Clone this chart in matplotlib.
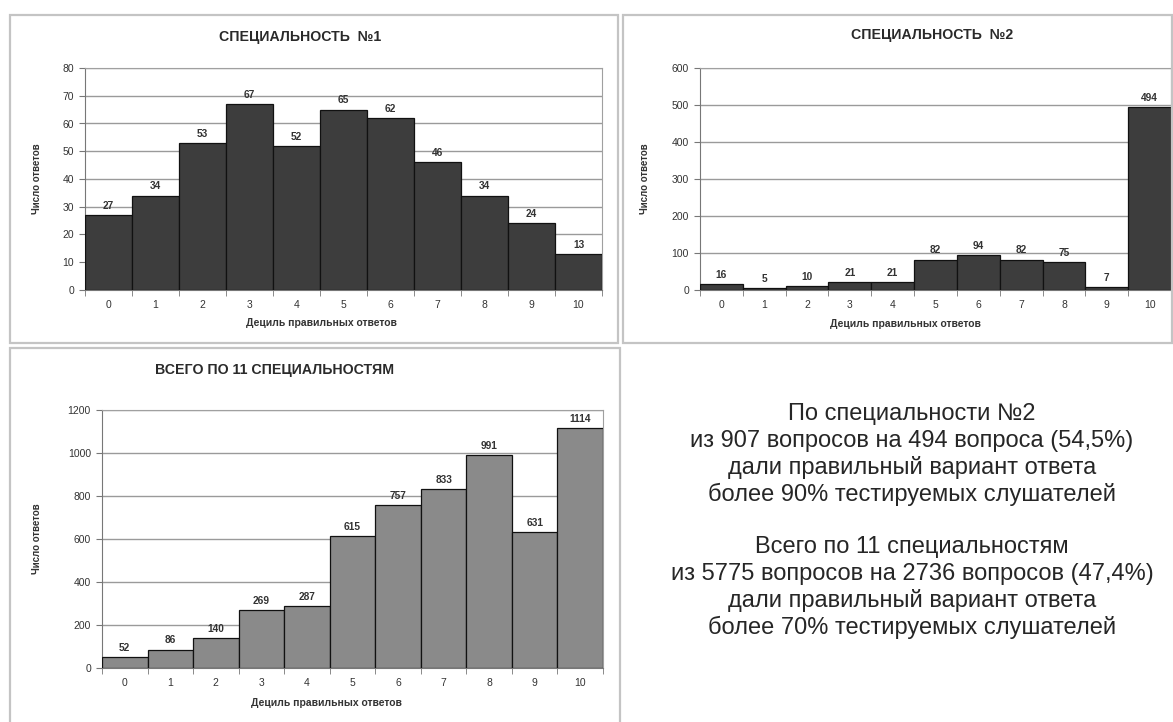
import matplotlib
matplotlib.use("Agg")
import matplotlib.pyplot as plt
from matplotlib.patches import Rectangle
import numpy as np

# deciles of correct answers and counts per decile
DECILES = list(range(11))
SPEC1 = [27, 34, 53, 67, 52, 65, 62, 46, 34, 24, 13]
SPEC2 = [16, 5, 10, 21, 21, 82, 94, 82, 75, 7, 494]
TOTAL = [52, 86, 140, 269, 287, 615, 757, 833, 991, 631, 1114]

TITLES = ["СПЕЦИАЛЬНОСТЬ  №1", "СПЕЦИАЛЬНОСТЬ  №2", "ВСЕГО ПО 11 СПЕЦИАЛЬНОСТЯМ"]
YLABEL = "Число ответов"
XLABEL = "Дециль правильных ответов"
NOTE = ["По специальности №2",
        "из 907 вопросов на 494 вопроса (54,5%)",
        "дали правильный вариант ответа",
        "более 90% тестируемых слушателей",
        "",
        "Всего по 11 специальностям",
        "из 5775 вопросов на 2736 вопросов (47,4%)",
        "дали правильный вариант ответа",
        "более 70% тестируемых слушателей"]

plt.rcParams["font.family"] = ["Liberation Sans", "DejaVu Sans"]

W, H = 1173, 722
fig = plt.figure(figsize=(W / 100, H / 100), dpi=100)
fig.patch.set_facecolor("white")


def fx(px):
    return px / W


def fy(py):
    return 1 - py / H


def frame(x0, y0, x1, y1):
    fig.patches.append(Rectangle((fx(x0), fy(y1)), fx(x1) - fx(x0), fy(y0) - fy(y1),
                                 transform=fig.transFigure, fill=False,
                                 edgecolor="#c4c4c4", lw=1.6))


def panel(box, values, ymax, ystep, color, title, title_xy, xlab_xy, ylab_x):
    x0, y0, x1, y1 = box
    ax = fig.add_axes([fx(x0), fy(y1), fx(x1) - fx(x0), fy(y0) - fy(y1)])
    ax.bar(DECILES, values, width=1.0, color=color, edgecolor="#111111", lw=0.9, zorder=3)
    for d, v in zip(DECILES, values):
        ax.annotate(str(v), (d, v), xytext=(0, 3), textcoords="offset points",
                    ha="center", va="bottom", fontsize=7.3, fontweight="bold",
                    color="#333333", zorder=4)
    ax.set_xlim(-0.5, 10.5)
    ax.set_ylim(0, ymax)
    ax.set_yticks(np.arange(0, ymax + 1, ystep))
    ax.set_xticks(DECILES)
    ax.set_xticks(np.arange(-0.5, 11, 1.0), minor=True)
    ax.tick_params(axis="x", which="major", length=0, labelsize=7.5,
                   labelcolor="#333333", pad=7)
    ax.tick_params(axis="x", which="minor", length=4, color="#777777")
    ax.tick_params(axis="y", length=4, color="#777777", labelsize=7.5,
                   labelcolor="#333333", pad=4)
    ax.grid(axis="y", color="#9a9a9a", lw=1.0, zorder=0)
    for s in ["top", "right"]:
        ax.spines[s].set_color("#a0a0a0")
    for s in ["left", "bottom"]:
        ax.spines[s].set_color("#777777")
    fig.text(fx(title_xy[0]), fy(title_xy[1]), title, ha="center", va="center",
             fontsize=10.2, fontweight="bold", color="#2a2a2a")
    fig.text(fx(xlab_xy[0]), fy(xlab_xy[1]), XLABEL, ha="center", va="center",
             fontsize=7.5, fontweight="bold", color="#333333")
    fig.text(fx(ylab_x), fy((y0 + y1) / 2), YLABEL, ha="center", va="center",
             rotation=90, fontsize=7, fontweight="bold", color="#333333")
    return ax


frame(10, 15, 618, 343)
frame(623, 15, 1172, 343)
frame(10, 348, 620, 724)

panel((85, 68, 602, 290), SPEC1, 80, 10, "#3d3d3d", TITLES[0], (300, 37), (321, 323), 37)
panel((700, 68, 1171, 290), SPEC2, 600, 100, "#3d3d3d", TITLES[1], (932, 35), (905, 324), 645)
panel((102, 410, 603, 668), TOTAL, 1200, 200, "#8a8a8a", TITLES[2], (275, 370), (326, 703), 37)

for i, line in enumerate(NOTE):
    fig.text(fx(912), fy(414 + i * 26.7), line, ha="center", va="center",
             fontsize=17, color="#262626")

fig.savefig("out.png", dpi=100)
